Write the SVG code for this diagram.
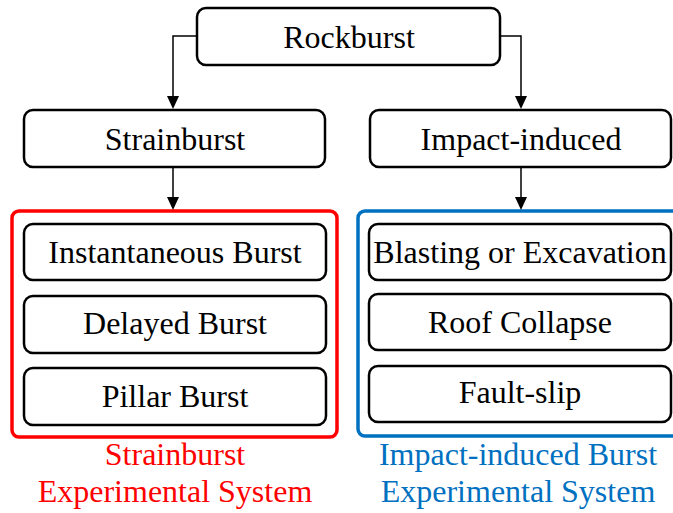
<svg xmlns="http://www.w3.org/2000/svg" width="673" height="513" viewBox="0 0 673 513">
<rect width="673" height="513" fill="#ffffff"/>
<g id="frame-strain"><rect x="12" y="211" width="325" height="226" rx="7" fill="none" stroke="#ff0000" stroke-width="3.5"/></g>
<g id="frame-impact"><rect x="358" y="211" width="330" height="225" rx="7" fill="none" stroke="#0070c0" stroke-width="3.5"/></g>
<g id="connectors" stroke="#000000" stroke-width="1.5" fill="none">
<path d="M197,36 H173 V97"/>
<path d="M500,36 H521 V97"/>
<path d="M173,167 V198"/>
<path d="M521,167 V198"/>
<polygon points="167,96 179,96 173,109" fill="#000000" stroke="none"/>
<polygon points="515,96 527,96 521,109" fill="#000000" stroke="none"/>
<polygon points="167,197 179,197 173,210" fill="#000000" stroke="none"/>
<polygon points="515,197 527,197 521,210" fill="#000000" stroke="none"/>
</g>
<g fill="#ffffff" stroke="#000000" stroke-width="2.5">
<rect id="rockburst-box" x="197" y="8" width="303" height="57" rx="9"/>
<rect id="strainburst-box" x="24" y="110" width="301" height="57" rx="9"/>
<rect id="impact-box" x="370" y="110" width="301" height="57" rx="9"/>
<rect id="instantaneous-box" x="24" y="224" width="302" height="56" rx="9"/>
<rect id="delayed-box" x="24" y="296" width="302" height="57" rx="9"/>
<rect id="pillar-box" x="24" y="368" width="302" height="57" rx="9"/>
<rect id="blasting-box" x="369" y="224" width="302" height="56" rx="9"/>
<rect id="roof-box" x="369" y="294" width="302" height="56" rx="9"/>
<rect id="fault-box" x="369" y="366" width="302" height="56" rx="9"/>
</g>
<g font-family="Liberation Serif" font-size="32" text-anchor="middle" fill="#000000">
<text x="349" y="48">Rockburst</text>
<text x="175" y="150">Strainburst</text>
<text x="521" y="150">Impact-induced</text>
<text x="175" y="263">Instantaneous Burst</text>
<text x="175" y="334">Delayed Burst</text>
<text x="175" y="407">Pillar Burst</text>
<text x="520" y="263">Blasting or Excavation</text>
<text x="520" y="333">Roof Collapse</text>
<text x="520" y="403">Fault-slip</text>
<text x="175" y="465" fill="#ff0000">Strainburst</text>
<text x="175" y="502" fill="#ff0000">Experimental System</text>
<text x="518" y="465" fill="#0070c0">Impact-induced Burst</text>
<text x="518" y="502" fill="#0070c0">Experimental System</text>
</g>
</svg>
